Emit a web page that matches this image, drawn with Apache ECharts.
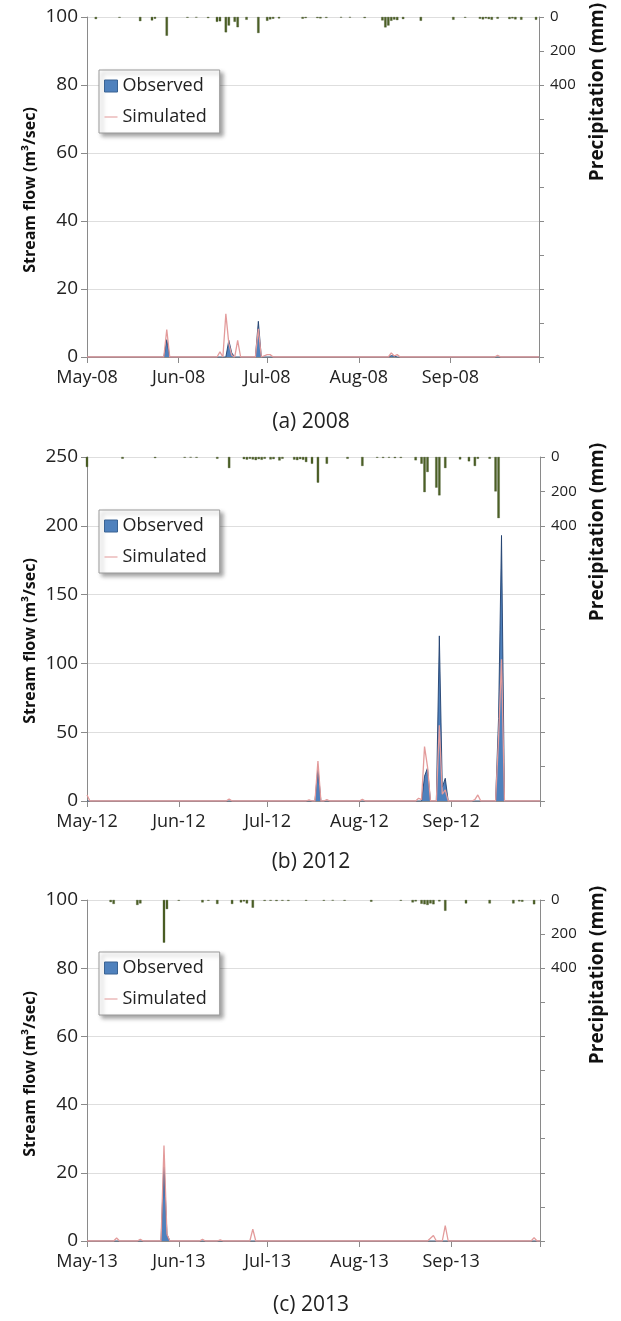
<!DOCTYPE html>
<html><head><meta charset="utf-8">
<script src="https://cdn.jsdelivr.net/npm/echarts@6/dist/echarts.min.js"></script>
<style>html,body{margin:0;padding:0;background:#fff}#c{width:621px;height:1321px}</style>
</head><body><div id="c"></div>
<script>
// ---- categories: daily, May 1 .. Oct 1 (index 0..153)
const categories = [];
for (let i = 0; i <= 153; i++) {
  const d = new Date(Date.UTC(2000, 4, 1 + i));
  categories.push(String(d.getUTCMonth() + 1).padStart(2, '0') + '-' + String(d.getUTCDate()).padStart(2, '0'));
}
const monthStarts = [0, 31, 61, 92, 123, 153];
const monthLabels2008 = ['May-08', 'Jun-08', 'Jul-08', 'Aug-08', 'Sep-08', ''];
const monthLabels2012 = ['May-12', 'Jun-12', 'Jul-12', 'Aug-12', 'Sep-12', ''];
const monthLabels2013 = ['May-13', 'Jun-13', 'Jul-13', 'Aug-13', 'Sep-13', ''];
const panelTitles = ['(a) 2008', '(b) 2012', '(c) 2013'];
const precipTicks = [0, 200, 400];

// ---- values as [dayIndex, value]
const precip2008 = [[3,12],[11,4],[18,24],[22,20],[23,10],[27,110],[34,4],[37,3],[41,6],[44,28],[45,25],[47,90],[48,50],[50,28],[51,60],[54,16],[58,94],[61,22],[62,14],[63,10],[65,8],[73,10],[74,6],[78,6],[79,8],[81,5],[86,3],[89,3],[94,6],[100,20],[101,61],[102,50],[103,22],[104,15],[105,18],[107,12],[113,22],[124,16],[128,4],[133,10],[134,14],[135,8],[136,12],[137,16],[139,10],[143,12],[144,8],[145,14],[147,16],[152,16]];
const obs2008 = [[0,0],[26,0],[27,5.1],[28,0],[47,0],[48,4.9],[49,1.2],[50,0],[57,0],[58,10.5],[59,0],[102,0],[103,0.4],[104,0.3],[105,0],[153,0]];
const sim2008 = [[0,0],[26,0],[27,8.1],[28,0],[44,0],[45,1.5],[46,0],[47,12.7],[48,4],[49,0.5],[50,0],[51,4.9],[52,0],[57,0],[58,8.3],[59,0],[61,0.7],[62,0.7],[63,0],[102,0],[103,1.2],[104,0.3],[105,0.7],[106,0],[138,0],[139,0.5],[140,0],[153,0]];

const precip2012 = [[0,58],[12,10],[23,6],[33,4],[35,3],[37,4],[44,10],[48,64],[53,12],[54,15],[55,10],[56,14],[57,18],[58,12],[59,16],[60,10],[62,14],[63,12],[65,20],[66,10],[70,15],[71,18],[72,12],[73,16],[74,29],[76,39],[78,149],[81,39],[88,10],[93,52],[98,4],[100,5],[102,4],[104,6],[106,5],[111,19],[113,39],[114,204],[115,87],[118,178],[119,223],[121,64],[126,14],[129,25],[131,52],[132,10],[136,10],[138,200],[139,355]];
const obs2012 = [[0,0],[77,0],[78,24],[79,0],[113,0],[114,18],[115,24],[116,0],[118,0],[119,120],[120,10],[121,16.5],[122,0],[138,0],[139,60],[140,193],[141,0],[153,0]];
const sim2012 = [[0,4.4],[1,0],[47,0],[48,1.5],[49,0],[74,0],[75,0.8],[76,0],[77,0],[78,29],[79,0],[80,0],[81,1],[82,0],[92,0],[93,1.2],[94,0],[111,0],[112,2],[113,1],[114,39.5],[115,25],[116,0],[118,0],[119,55],[120,5],[121,8],[122,0],[130,0],[131,1],[132,4.4],[133,0],[138,0],[139,45],[140,103],[141,0],[153,0]];

const precip2013 = [[8,12],[9,23],[17,29],[18,20],[26,250],[27,53],[31,4],[39,14],[41,4],[44,23],[49,23],[52,14],[53,8],[54,20],[56,45],[60,5],[62,4],[64,6],[66,4],[68,5],[74,4],[80,4],[83,3],[87,4],[96,10],[106,4],[110,14],[111,8],[113,22],[114,25],[115,29],[116,20],[117,25],[119,8],[121,63],[128,20],[136,20],[144,20],[146,8],[147,10],[151,25]];
const obs2013 = [[0,0],[25,0],[26,23],[27,2],[28,0],[153,0]];
const sim2013 = [[0,0],[9,0],[10,0.9],[11,0],[17,0],[18,0.5],[19,0],[25,0],[26,28],[27,2],[28,0],[38,0],[39,0.5],[40,0],[44,0],[45,0.3],[46,0],[55,0],[56,3.5],[57,0],[115,0],[116,0.8],[117,1.6],[118,0],[120,0],[121,4.5],[122,0],[150,0],[151,1],[152,0],[153,0]];

const flowMax = [100, 250, 100];
const flowInterval = [20, 50, 20];

// ---- layout / style
const FONT = 'Open Sans';
const TXT = '#222';
const AX = '#8a8a8a';
const grids = [
  {left: 87, top: 17, width: 452, height: 340},
  {left: 87, top: 457, width: 453, height: 344},
  {left: 87, top: 900, width: 453, height: 341}
];
const legendTops = [70, 510, 952];
const titleY = [422, 862, 1305];
const leftTitleY = [190, 641, 1074];
const rightTitleY = [92, 532, 975];
const allMonthLabels = [monthLabels2008, monthLabels2012, monthLabels2013];
const precips = [precip2008, precip2012, precip2013];
const obss = [obs2008, obs2012, obs2013];
const sims = [sim2008, sim2012, sim2013];

const xAxis = [], yAxis = [], series = [], legend = [], graphic = [];
for (let p = 0; p < 3; p++) {
  const ml = allMonthLabels[p];
  xAxis.push({
    type: 'category', gridIndex: p, data: categories, boundaryGap: false,
    axisLine: {show: true, lineStyle: {color: AX, width: 1}},
    axisTick: {show: true, length: 6, lineStyle: {color: AX}, interval: (i) => monthStarts.includes(i)},
    axisLabel: {
      interval: (i) => monthStarts.includes(i),
      formatter: (v, i) => { const k = monthStarts.indexOf(i); return k >= 0 ? ml[k] : ''; },
      fontFamily: FONT, fontSize: 18, color: TXT, margin: 12
    },
    splitLine: {show: false}
  });
  yAxis.push({
    type: 'value', gridIndex: p, min: 0, max: flowMax[p], interval: flowInterval[p],
    axisLine: {show: true, lineStyle: {color: AX}},
    axisTick: {show: true, length: 6, lineStyle: {color: AX}},
    axisLabel: {fontFamily: FONT, fontSize: 19, color: TXT, margin: 9},
    splitLine: {show: true, lineStyle: {color: '#dedede', width: 1}}
  });
  yAxis.push({
    type: 'value', gridIndex: p, position: 'right', inverse: true, min: 0, max: 2000, interval: 200,
    axisLine: {show: true, lineStyle: {color: AX}},
    axisTick: {show: true, length: 5, lineStyle: {color: AX}},
    axisLabel: {fontFamily: FONT, fontSize: 15, color: TXT, margin: 11,
      formatter: (v) => precipTicks.includes(v) ? String(v) : ''},
    splitLine: {show: false}
  });
  series.push({
    name: 'Precipitation', type: 'bar', xAxisIndex: p, yAxisIndex: 2 * p + 1,
    data: precips[p], barWidth: 2.3,
    itemStyle: {color: '#4d6126', borderColor: '#37461b', borderWidth: 0.3},
    silent: true
  });
  series.push({
    name: 'Observed', type: 'line', xAxisIndex: p, yAxisIndex: 2 * p,
    data: obss[p], symbol: 'none', color: '#4F81BD',
    lineStyle: {color: '#203f6e', width: 0.9},
    areaStyle: {color: '#4F81BD', opacity: 1}
  });
  series.push({
    name: 'Simulated', type: 'line', xAxisIndex: p, yAxisIndex: 2 * p,
    data: sims[p], symbol: 'none', color: '#E39B9B',
    lineStyle: {color: '#E39B9B', width: 1.3}
  });
  legend.push({
    orient: 'vertical', left: 99, top: legendTops[p],
    data: [
      {name: 'Observed', icon: 'rect', itemStyle: {color: '#4F81BD', borderColor: '#3a6393', borderWidth: 1}},
      {name: 'Simulated', icon: 'path://M0,0H20V1.6H0Z', itemStyle: {color: '#E39B9B', borderWidth: 0}}
    ],
    itemWidth: 13, itemHeight: 12, itemGap: 11, itemTextGap: 3, selectedMode: false,
    textStyle: {fontFamily: FONT, fontSize: 18, color: TXT, lineHeight: 20},
    backgroundColor: '#fff', borderColor: '#9a9a9a', borderWidth: 1, borderRadius: 0,
    padding: [6, 13, 6, 5],
    shadowBlur: 4, shadowColor: 'rgba(0,0,0,0.35)', shadowOffsetX: 3, shadowOffsetY: 3
  });
  graphic.push({
    type: 'text', x: 311, y: titleY[p],
    style: {text: panelTitles[p], font: '21px "' + FONT + '"', fill: TXT, align: 'center', verticalAlign: 'middle'}
  });
  graphic.push({
    type: 'text', x: 30, y: leftTitleY[p], rotation: Math.PI / 2,
    style: {text: 'Stream flow (m³/sec)', font: 'bold 16px "' + FONT + '"', fill: '#111', align: 'center', verticalAlign: 'middle'}
  });
  graphic.push({
    type: 'text', x: 598, y: rightTitleY[p], rotation: Math.PI / 2,
    style: {text: 'Precipitation (mm)', font: 'bold 19px "' + FONT + '"', fill: '#111', align: 'center', verticalAlign: 'middle'}
  });
}

const chart = echarts.init(document.getElementById('c'), null, {renderer: 'canvas'});
chart.setOption({
  animation: false,
  backgroundColor: '#fff',
  grid: grids,
  xAxis, yAxis, series, legend, graphic
});
</script>
</body></html>
